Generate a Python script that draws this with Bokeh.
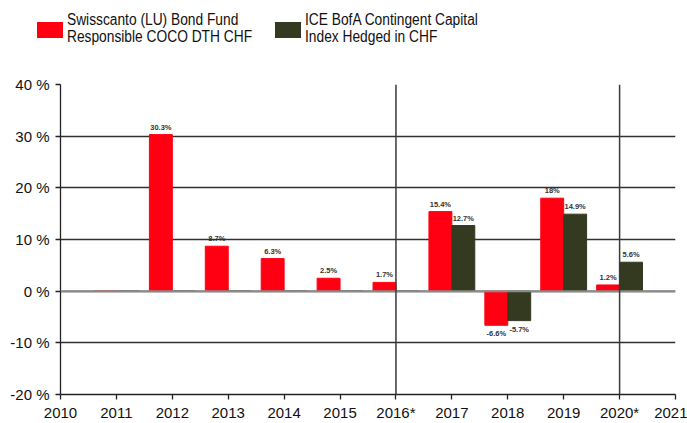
from bokeh.plotting import figure
from bokeh.layouts import column
from bokeh.models import FixedTicker, Span, ColumnDataSource, Div
from bokeh.core.properties import value
from bokeh.embed import file_html
from bokeh.resources import INLINE

# ---- data ----
axis_labels = ["2010", "2011", "2012", "2013", "2014", "2015", "2016*",
               "2017", "2018", "2019", "2020*", "2021"]
categories = ["2011", "2012", "2013", "2014", "2015", "2016*",
              "2017", "2018", "2019", "2020*"]
fund = [0.0, 30.3, 8.7, 6.3, 2.5, 1.7, 15.4, -6.6, 18.0, 1.2]
index = [0.0, 0.0, 0.0, 0.0, 0.0, 0.0, 12.7, -5.7, 14.9, 5.6]
fund_name = ["Swisscanto (LU) Bond Fund", "Responsible COCO DTH CHF"]
index_name = ["ICE BofA Contingent Capital", "Index Hedged in CHF"]
y_ticks = [-20, -10, 0, 10, 20, 30, 40]
v_lines = ["2016*", "2020*"]

RED = "#FF0013"
GREEN = "#333A20"
FONT = "Liberation Sans"
W = 687
BL, BR = 60, 12

# ---- legend strip (HTML) ----
def item(x_sw, x_txt, col, lines):
    return (f'<div style="position:absolute;left:{x_sw}px;top:22px;width:26px;'
            f'height:16px;background:{col}"></div>'
            f'<div style="position:absolute;left:{x_txt}px;top:11px;white-space:nowrap;'
            f'transform:scaleX(0.86);transform-origin:0 0">'
            + "<br>".join(lines) + "</div>")

leg_html = (f'<div style="position:relative;width:{W}px;height:60px;'
            f"font-family:'{FONT}';font-size:16px;line-height:17px;color:#111111\">"
            + item(37, 67, RED, fund_name) + item(275, 305, GREEN, index_name)
            + "</div>")
leg = Div(text=leg_html, width=W, height=60, margin=(0, 0, 0, 0))

# ---- main chart ----
pos = {c: axis_labels.index(c) for c in categories}
xs = [pos[c] for c in categories]
bw = 0.41

p = figure(width=W, height=363, x_range=(0, len(axis_labels) - 1), y_range=(-20, 40),
           output_backend="svg", toolbar_location=None,
           min_border_left=BL, min_border_right=BR, min_border_top=24,
           min_border_bottom=28)
p.outline_line_color = None
p.xgrid.visible = False
p.ygrid.ticker = FixedTicker(ticks=y_ticks)
p.ygrid.grid_line_color = "#303030"
p.ygrid.grid_line_width = 1.3

p.vbar(x=[x - bw / 2 for x in xs], top=fund, bottom=0, width=bw,
       fill_color=RED, line_color=RED, line_width=1)
p.vbar(x=[x + bw / 2 for x in xs], top=index, bottom=0, width=bw,
       fill_color=GREEN, line_color=GREEN, line_width=1)

p.add_layout(Span(location=0, dimension="width", line_color="#8a8a8a", line_width=2))
for c in v_lines:
    p.add_layout(Span(location=pos[c], dimension="height", line_color="#3a3a3a",
                      line_width=1.5))

def label_src(vals, off):
    lx, ly, lt = [], [], []
    for x, v in zip(xs, vals):
        if v == 0:
            continue
        lx.append(x + off)
        ly.append(v)
        lt.append(f"{v:g}%")
    return lx, ly, lt

for vals, off in ((fund, -bw / 2), (index, bw / 2)):
    lx, ly, lt = label_src(vals, off)
    pos_i = [i for i, v in enumerate(ly) if v > 0]
    neg_i = [i for i, v in enumerate(ly) if v < 0]
    for idxs, yoff, base in ((pos_i, -3, "bottom"), (neg_i, 4, "top")):
        src = ColumnDataSource(dict(x=[lx[i] for i in idxs], y=[ly[i] for i in idxs],
                                    t=[lt[i] for i in idxs]))
        p.text(x="x", y="y", text="t", source=src, y_offset=yoff,
               text_font=value(FONT), text_font_size="7.5px", text_font_style="bold",
               text_color="#333333", text_align="center", text_baseline=base)

p.xaxis.ticker = FixedTicker(ticks=list(range(len(axis_labels))))
p.xaxis.major_label_overrides = {i: t for i, t in enumerate(axis_labels)}
p.yaxis.ticker = FixedTicker(ticks=y_ticks)
p.yaxis.major_label_overrides = {t: f"{t} %" for t in y_ticks}
for ax in (p.xaxis, p.yaxis):
    ax.axis_line_color = "#222222"
    ax.axis_line_width = 1.3
    ax.major_tick_line_color = "#222222"
    ax.major_tick_line_width = 1.3
    ax.major_tick_out = 5
    ax.major_tick_in = 0
    ax.minor_tick_line_color = None
    ax.major_label_text_font = FONT
    ax.major_label_text_font_size = "15px"
    ax.major_label_text_color = "#111111"
p.xaxis.major_label_standoff = 4
p.yaxis.major_label_standoff = 6

layout = column(leg, p, spacing=0)
open("out.html", "w").write(file_html(layout, INLINE))
